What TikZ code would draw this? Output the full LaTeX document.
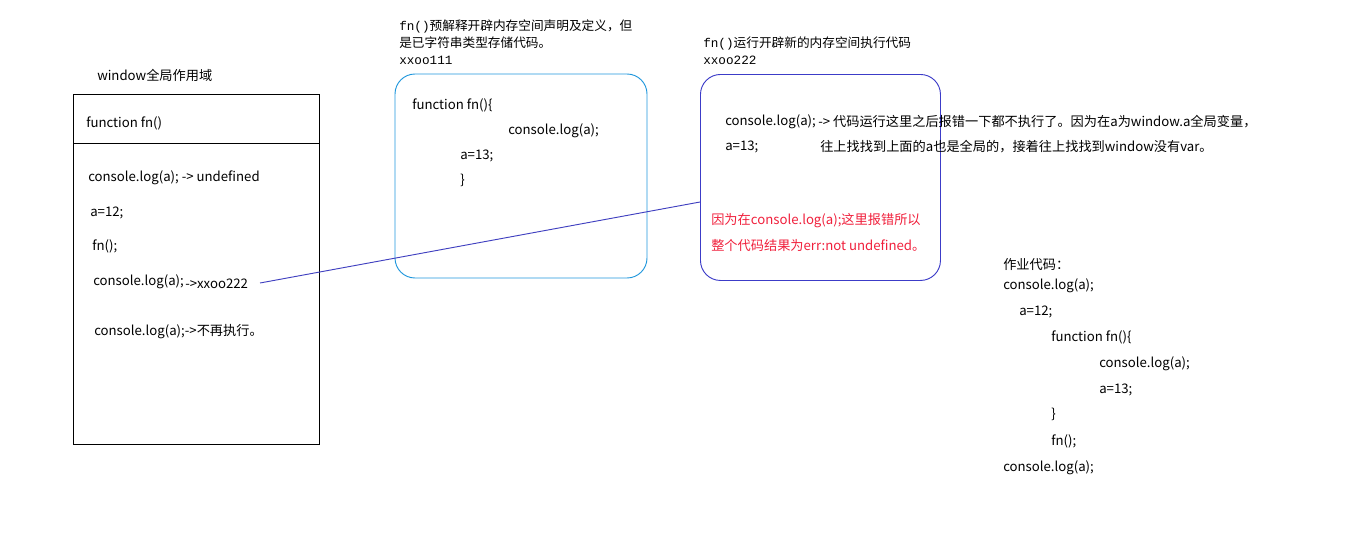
\documentclass[tikz,border=0pt]{standalone}
\usepackage{fontspec}
\setmainfont{Noto Sans CJK SC}
\newfontfamily\cjkmono{Noto Sans CJK SC}
\newfontfamily\latmono{Liberation Mono}
\definecolor{boxcyan}{HTML}{1E96DC}
\definecolor{boxblue}{HTML}{3C3CC8}
\definecolor{linkblue}{HTML}{4040C0}
\definecolor{errred}{HTML}{F0203C}
\tikzset{
  txt/.style={anchor=west, inner sep=0pt, font=\fontsize{9.9pt}{11pt}\selectfont},
  note/.style={anchor=west, inner sep=0pt, font=\fontsize{9.5pt}{10pt}\selectfont},
  rbox/.style={rounded corners=15pt, line width=0.7pt},
}
\begin{document}
\begin{tikzpicture}[x=0.75pt,y=-0.75pt]
\useasboundingbox (0,0) rectangle (1359,539);
% left box
\node[txt] (win) at (97,75.5) {window全局作用域};
\draw[line width=0.65pt] (73,94) rectangle (319,444);
\coordinate (hl) at (73,143.5);
\coordinate (hr) at (319,143.5);
\draw[line width=0.65pt] (hl) -- (hr);
\node[txt] (fnhead) at (86,123.5) {function fn()};
\node[txt] (l1) at (88,177.5) {console.log(a); -> undefined};
\node[txt] (l2) at (90,212.5) {a=12;};
\node[txt] (l3) at (92,246.5) {fn();};
\node[txt] (l4) at (93,281.5) {console.log(a);};
\node[txt] (l4b) at (185,283.5) {->xxoo222};
\node[txt] (l5) at (94,331.5) {console.log(a);->不再执行。};
% middle box
\node[note] (m1) at (399,26) {{\latmono fn()}{\cjkmono 预解释开辟内存空间声明及定义，但}};
\node[note] (m2) at (399,43) {{\cjkmono 是已字符串类型存储代码。}};
\node[note] (m3) at (399,60) {{\latmono xxoo111}};
\draw[rbox, boxcyan] (395,74) rectangle (647,278);
\node[txt] (f1) at (412,105.5) {function fn()\{};
\node[txt] (f2) at (508,130.5) {console.log(a);};
\node[txt] (f3) at (460,155.5) {a=13;};
\node[txt] (f4) at (460,180.5) {\}};
% right box
\node[note] (r1) at (703,43) {{\latmono fn()}{\cjkmono 运行开辟新的内存空间执行代码}};
\node[note] (r2) at (703,60) {{\latmono xxoo222}};
\node[rbox, boxblue, draw, minimum width=240*0.75pt, minimum height=206*0.75pt, inner sep=0pt, anchor=north west] (rb) at (700,74) {};
\node[txt] (g1) at (725,121.5) {console.log(a);};
\node[txt] (g2) at (725,146.5) {a=13;};
\node[txt] (g3) at (818,121.5) {-> 代码运行这里之后报错一下都不执行了。因为在a为window.a全局变量，};
\node[txt] (g4) at (820,146.5) {往上找找到上面的a也是全局的，接着往上找找到window没有var。};
\node[txt, text=errred] (e1) at (711,220.5) {因为在console.log(a);这里报错所以};
\node[txt, text=errred] (e2) at (711,245.5) {整个代码结果为err:not undefined。};
% connector
\coordinate (lstart) at (260,283);
\coordinate (lend) at (700,202);
\draw[linkblue, line width=0.7pt] (lstart) -- (lend);
% homework
\node[txt] (h0) at (1003,264.5) {作业代码：};
\node[txt] (h1) at (1003,285.5) {console.log(a);};
\node[txt] (h2) at (1019,311.5) {a=12;};
\node[txt] (h3) at (1051,337.5) {function fn()\{};
\node[txt] (h4) at (1099,363.5) {console.log(a);};
\node[txt] (h5) at (1099,389.5) {a=13;};
\node[txt] (h6) at (1051,414.5) {\}};
\node[txt] (h7) at (1051,441.5) {fn();};
\node[txt] (h8) at (1003,467.5) {console.log(a);};
\end{tikzpicture}
\end{document}
